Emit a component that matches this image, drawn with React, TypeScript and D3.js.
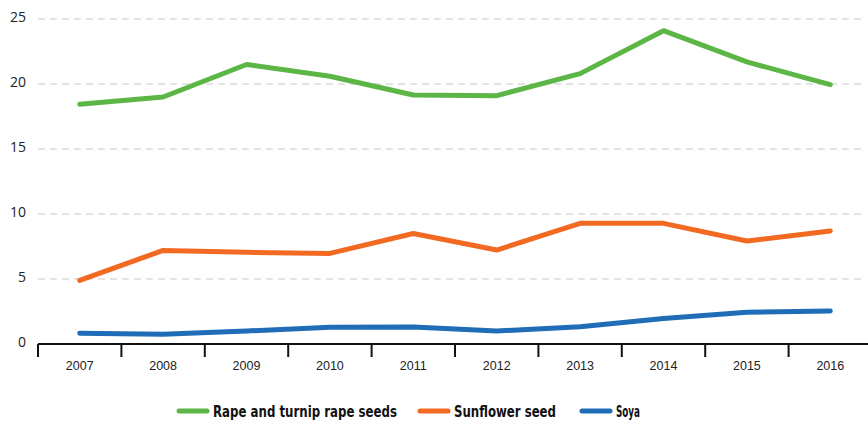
import React from "react";
import * as d3 from "d3";

const years = ["2007","2008","2009","2010","2011","2012","2013","2014","2015","2016"];
const rape = [18.45, 19.0, 21.5, 20.6, 19.15, 19.1, 20.8, 24.1, 21.7, 19.95];
const sunflower = [4.9, 7.2, 7.05, 6.97, 8.5, 7.23, 9.28, 9.28, 7.92, 8.7];
const soya = [0.82, 0.75, 1.0, 1.28, 1.3, 1.0, 1.33, 1.97, 2.44, 2.54];
const yTicks = [0, 5, 10, 15, 20, 25];
const seriesNames = ["Rape and turnip rape seeds", "Sunflower seed", "Soya"];
const colors = ["#5cb646", "#f26a22", "#1f6db6"];

export default function App() {
  const W = 868, H = 421;
  const x0 = 38, x1 = 872;
  const x = d3.scaleBand<string>().domain(years).range([x0, x1]);
  const y = d3.scaleLinear().domain([0, 25]).range([344, 19]);
  const line = d3.line<number>()
    .x((_, i) => (x(years[i]) as number) + x.bandwidth() / 2)
    .y((v) => y(v));
  const series = [rape, sunflower, soya];
  const legendX = [179, 420, 582];
  const legendW = [184, 102, 24];
  return (
    <svg width={W} height={H} style={{ position: "absolute", left: 0, top: 0 }}
      fontFamily="'Open Sans', 'Noto Sans', sans-serif">
      <rect width={W} height={H} fill="#fff" />
      {yTicks.filter((t) => t > 0).map((t) => (
        <line key={t} x1={x0} x2={866} y1={y(t)} y2={y(t)} stroke="#c8c8c8" strokeWidth={1.2} strokeDasharray="7,5" />
      ))}
      {yTicks.map((t) => (
        <text key={t} x={26} y={y(t) - 1} textAnchor="end" dominantBaseline="middle" fontSize={14} fill="#222">{t}</text>
      ))}
      <line x1={x0} x2={868} y1={344} y2={344} stroke="#111" strokeWidth={2.2} />
      {years.map((yr) => (
        <line key={yr} x1={x(yr)} x2={x(yr)} y1={344} y2={357} stroke="#111" strokeWidth={2} />
      ))}
      {years.map((yr) => (
        <text key={yr} x={(x(yr) as number) + x.bandwidth() / 2} y={366.5} textAnchor="middle" dominantBaseline="middle"
          fontSize={12.5} fontFamily="'Liberation Sans', Arial, sans-serif" fill="#222">{yr}</text>
      ))}
      {series.map((s, i) => (
        <path key={i} d={line(s) || ""} fill="none" stroke={colors[i]} strokeWidth={5} strokeLinecap="round" strokeLinejoin="round" />
      ))}
      {seriesNames.map((n, i) => (
        <g key={n}>
          <line x1={legendX[i]} x2={legendX[i] + 28} y1={411} y2={411} stroke={colors[i]} strokeWidth={5} strokeLinecap="round" />
          <text x={legendX[i] + 34} y={412} dominantBaseline="middle" fontSize={15} fontWeight="bold"
            fontFamily="'DejaVu Sans Condensed', 'Liberation Sans Narrow', sans-serif" fontStretch="condensed"
            textLength={legendW[i]} lengthAdjust="spacingAndGlyphs" fill="#111">{n}</text>
        </g>
      ))}
    </svg>
  );
}
